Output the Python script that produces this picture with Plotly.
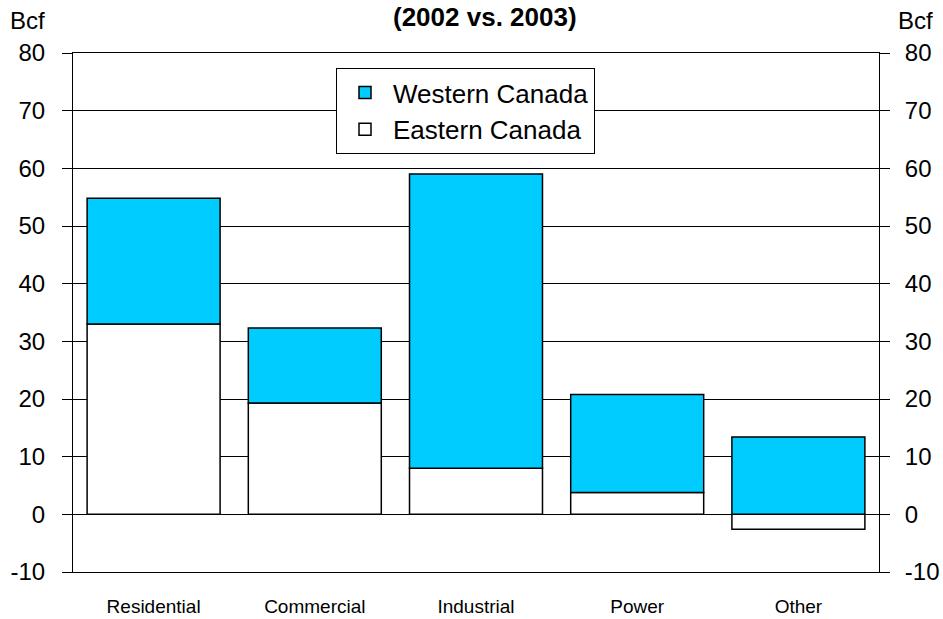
import plotly.graph_objects as go

# Change in natural gas demand by sector, 2002 vs. 2003 (Bcf)
sectors = ["Residential", "Commercial", "Industrial", "Power", "Other"]
eastern = [33.0, 19.3, 8.0, 3.8, -2.6]
western = [21.8, 13.0, 51.0, 17.0, 13.4]
y_ticks = [-10, 0, 10, 20, 30, 40, 50, 60, 70, 80]
y_tick_text = ["-10", "0", "10", "20", "30", "40", "50", "60", "70", "80"]

FONT = "Liberation Sans, Arial, sans-serif"
CYAN = "#00CCFF"

W, H = 943, 619
L, R, T, B = 73, 64, 53, 47

fig = go.Figure()
fig.add_trace(go.Bar(
    x=sectors, y=eastern, name="Eastern Canada", legendrank=2,
    marker=dict(color="white", line=dict(color="black", width=1.5)),
))
fig.add_trace(go.Bar(
    x=sectors, y=western, name="Western Canada", legendrank=1,
    marker=dict(color=CYAN, line=dict(color="black", width=1.5)),
))
# invisible trace so the right-hand axis is drawn
fig.add_trace(go.Scatter(
    x=sectors, y=eastern, yaxis="y2", mode="markers",
    marker=dict(opacity=0), showlegend=False, hoverinfo="skip",
))

yax = dict(
    range=[-10, 80], tickvals=y_ticks, ticktext=y_tick_text,
    ticks="outside", ticklen=10, tickcolor="black", tickwidth=1,
    showline=True, linecolor="black", linewidth=1, automargin=False,
    tickfont=dict(family=FONT, size=24, color="black"),
)

fig.update_layout(
    width=W, height=H,
    margin=dict(l=L, r=R, t=T, b=B),
    paper_bgcolor="white", plot_bgcolor="white",
    barmode="relative", bargap=0.175,
    showlegend=True,
    legend=dict(
        x=(336 - L) / (W - L - R), y=(H - B - 68) / (H - T - B),
        xanchor="left", yanchor="top",
        bgcolor="white", bordercolor="black", borderwidth=1,
        font=dict(family=FONT, size=26, color="black"),
        traceorder="normal", itemwidth=46,
    ),
    xaxis=dict(
        showline=True, linecolor="black", linewidth=1, mirror=True,
        ticks="outside", ticklen=17, tickcolor="rgba(0,0,0,0)",
        automargin=False,
        tickfont=dict(family=FONT, size=19, color="black"),
    ),
    yaxis=dict(**yax, showgrid=True, gridcolor="black", gridwidth=1,
               zeroline=True, zerolinecolor="black", zerolinewidth=1,
               side="left", ticklabelstandoff=12),
    yaxis2=dict(**yax, overlaying="y", side="right", showgrid=False,
                zeroline=False, ticklabelstandoff=10),
)


def px(x):
    return (x - L) / (W - L - R)


def py(y):
    return (H - B - y) / (H - T - B)


for bx in (27, 915):
    fig.add_annotation(text="Bcf", x=px(bx), y=py(20), xref="paper",
                       yref="paper", xanchor="center", yanchor="middle",
                       showarrow=False,
                       font=dict(family=FONT, size=24, color="black"))
fig.add_annotation(text="<b>(2002 vs. 2003)</b>", x=px(485), y=py(17),
                   xref="paper", yref="paper", xanchor="center",
                   yanchor="middle", showarrow=False,
                   font=dict(family=FONT, size=26, color="black"))

fig.write_html("out.html")
